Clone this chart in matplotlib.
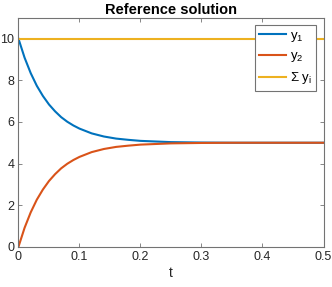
import numpy as np
import matplotlib
matplotlib.use('Agg')
import matplotlib.pyplot as plt

# значения
t = [0, 0.01, 0.02, 0.03, 0.04, 0.05, 0.06, 0.07, 0.08, 0.09, 0.10,
     0.12, 0.14, 0.16, 0.18, 0.20, 0.25, 0.30, 0.35, 0.40, 0.50]
y1 = [10.0, 9.09, 8.35, 7.74, 7.25, 6.84, 6.51, 6.23, 6.01, 5.83, 5.68,
      5.45, 5.30, 5.20, 5.14, 5.09, 5.03, 5.01, 5.00, 5.00, 5.00]
y2 = [0.0, 0.91, 1.65, 2.26, 2.75, 3.16, 3.49, 3.77, 3.99, 4.17, 4.32,
      4.55, 4.70, 4.80, 4.86, 4.91, 4.97, 4.99, 5.00, 5.00, 5.00]
y_sum = [10.0] * len(t)

labels = ['y$_1$', 'y$_2$', r'$\Sigma$ y$_\mathrm{i}$']
colors = ['#0072BD', '#D95319', '#EDB120']

plt.rcParams['font.family'] = ['Liberation Sans', 'DejaVu Sans']
plt.rcParams['mathtext.fontset'] = 'custom'
plt.rcParams['mathtext.rm'] = 'Liberation Sans'
plt.rcParams['mathtext.it'] = 'Liberation Sans'

fig = plt.figure(figsize=(3.32, 2.87), dpi=100)
ax = fig.add_axes([0.0557, 0.1404, 0.9187, 0.7969])

ax.plot(t, y1, color=colors[0], lw=1.5, label=labels[0])
ax.plot(t, y2, color=colors[1], lw=1.5, label=labels[1])
ax.plot(t, y_sum, color=colors[2], lw=1.5, label=labels[2])

ax.set_xlim(0, 0.5)
ax.set_ylim(0, 11)
ax.set_xticks([0, 0.1, 0.2, 0.3, 0.4, 0.5])
ax.set_xticklabels(['0', '0.1', '0.2', '0.3', '0.4', '0.5'])
ax.set_yticks([0, 2, 4, 6, 8, 10])

for s in ax.spines.values():
    s.set_color('0.45')
    s.set_linewidth(0.8)
ax.tick_params(direction='in', top=True, right=True, length=3, width=0.6,
               color='0.45', labelsize=9, labelcolor='#262626', pad=3)

ax.set_xlabel('t', fontsize=10, color='#262626', labelpad=2)
ax.set_title('Reference solution', fontsize=10.5, fontweight='bold', pad=3)

leg = ax.legend(loc='upper right', fontsize=9.5, fancybox=False, framealpha=1,
                edgecolor='0.45', handlelength=2.0, borderaxespad=0.55,
                labelspacing=0.45, borderpad=0.35, handletextpad=0.3)
leg.get_frame().set_linewidth(0.8)

fig.savefig('out.png', dpi=100)
